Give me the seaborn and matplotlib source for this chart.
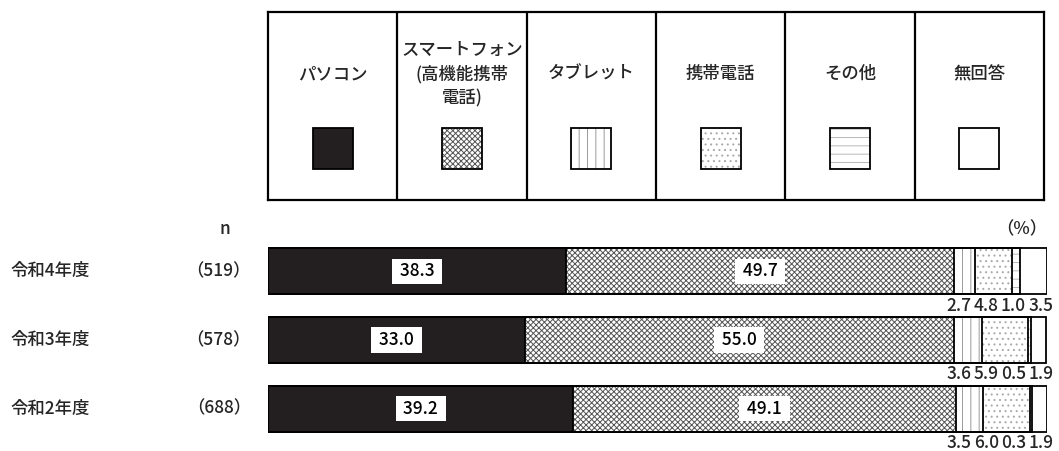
import seaborn as sns
import matplotlib.pyplot as plt
import matplotlib.transforms as mtransforms
from matplotlib.patches import Rectangle
import pandas as pd
import numpy as np

# data
years = ["令和4年度", "令和3年度", "令和2年度"]
n_values = [519, 578, 688]
devices = ["パソコン", "スマートフォン\n(高機能携帯\n電話)", "タブレット",
           "携帯電話", "その他", "無回答"]
pc = [38.3, 33.0, 39.2]
smartphone = [49.7, 55.0, 49.1]
tablet = [2.7, 3.6, 3.5]
mobile = [4.8, 5.9, 6.0]
other = [1.0, 0.5, 0.3]
no_answer = [3.5, 1.9, 1.9]

series = [pc, smartphone, tablet, mobile, other, no_answer]

# styles: (face colour, hatch, hatch colour)
face_colors = ["#231f20", "white", "white", "white", "white", "white"]
hatches = [None, "xxxxxx", "||", "...", "--", None]
hatch_colors = ["#231f20", "#555555", "#9a9a9a", "#a8a8a8", "#b8b8b8", "white"]

sns.set_theme(style="white")
plt.rcParams["font.family"] = ["Noto Sans CJK JP", "DejaVu Sans"]
plt.rcParams["font.weight"] = 500
plt.rcParams["hatch.linewidth"] = 0.7

W, H = 1059, 451
fig = plt.figure(figsize=(W / 100, H / 100), dpi=100)

# ---- stacked bars ----
ax = fig.add_axes([268 / W, 8 / H, 779 / W, 206 / H])
data = pd.DataFrame(dict(zip(range(len(series)), series)), index=years)
cum = data.cumsum(axis=1)

bar_h = 0.67
for k in reversed(range(len(series))):
    sns.barplot(x=cum[k].values, y=years, orient="h", ax=ax,
                color=face_colors[k], saturation=1, hatch=hatches[k],
                edgecolor=hatch_colors[k], linewidth=0, width=bar_h,
                errorbar=None)
for k in reversed(range(len(series))):
    sns.barplot(x=cum[k].values, y=years, orient="h", ax=ax,
                color="black", fill=False, linewidth=1.3, width=bar_h,
                errorbar=None)

ax.set_xlim(0, 100)
ax.set_ylim(2.5, -0.5)
ax.set_axis_off()

fs = 12.5
fig_x = mtransforms.blended_transform_factory(fig.transFigure, ax.transData)
for i, (yr, n) in enumerate(zip(years, n_values)):
    ax.text(10 / W, i, yr, transform=fig_x, ha="left", va="center", fontsize=fs)
    ax.text(251 / W, i, f"（{n}）", transform=fig_x, ha="right", va="center",
            fontsize=fs)
    # large labels inside the bar
    for k in (0, 1):
        left = cum[k - 1].iloc[i] if k > 0 else 0
        val = series[k][i]
        ax.text(left + val / 2, i, f" {val:.1f} ", ha="center", va="center",
                fontsize=fs, color="black",
                bbox=dict(boxstyle="square,pad=0.22", facecolor="white",
                          edgecolor="none"))
    # small labels below the bar
    small = [s[i] for s in series[2:]]
    for j, val in enumerate(small):
        xpos = 99.2 - 3.5 * (len(small) - 1 - j)
        ax.text(xpos, i + 0.5, f"{val:.1f}", ha="center", va="center",
                fontsize=fs)

fig.text(225 / W, 1 - 229 / H, "n", ha="center", va="center", fontsize=fs)
fig.text(1047 / W, 1 - 229 / H, "（%）", ha="right", va="center", fontsize=fs)

# ---- legend table ----
lg = fig.add_axes([268 / W, 1 - 200 / H, 776 / W, 188 / H])
lg.set_xlim(0, len(devices))
lg.set_ylim(188, 0)
lg.set_xticks([])
lg.set_yticks([])
for sp in lg.spines.values():
    sp.set_color("black")
    sp.set_linewidth(1.6)
for i in range(1, len(devices)):
    lg.axvline(i, color="black", lw=1.6)

sw = 40 / (776 / len(devices))
for i, name in enumerate(devices):
    lg.text(i + 0.5, 62, name, ha="center", va="center", fontsize=fs,
            linespacing=1.4)
    lg.add_patch(Rectangle((i + 0.5 - sw / 2, 116), sw, 41,
                           facecolor=face_colors[i], hatch=hatches[i],
                           edgecolor=hatch_colors[i], linewidth=0))
    lg.add_patch(Rectangle((i + 0.5 - sw / 2, 116), sw, 41,
                           fill=False, edgecolor="black", linewidth=1.3))

fig.savefig("out.png", dpi=100)
